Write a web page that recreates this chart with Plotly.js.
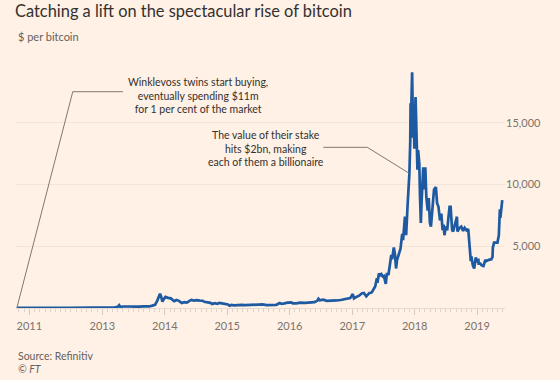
<!DOCTYPE html>
<html>
<head>
<meta charset="utf-8">
<script src="https://cdn.plot.ly/plotly-3.0.1.min.js"></script>
<style>
  html, body { margin: 0; padding: 0; background: #fff1e5; }
  #chart { width: 560px; height: 380px; }
</style>
</head>
<body>
<div id="chart"></div>
<script>
// ---- Data ----
const dates = [
  "2011-08-20","2011-09-15","2011-10-15","2011-11-15","2011-12-15",
  "2012-01-15","2012-02-15","2012-03-15","2012-04-15","2012-05-15","2012-06-15","2012-07-15","2012-08-15","2012-09-15","2012-10-15","2012-11-15","2012-12-15",
  "2013-01-15","2013-02-15","2013-03-15","2013-04-01","2013-04-09","2013-04-16","2013-05-01","2013-06-01","2013-07-01","2013-08-01","2013-09-01","2013-10-01","2013-10-20","2013-11-05","2013-11-18","2013-11-30","2013-12-04","2013-12-10","2013-12-18","2013-12-25",
  "2014-01-05","2014-01-20","2014-02-05","2014-02-25","2014-03-10","2014-03-25","2014-04-10","2014-04-25","2014-05-10","2014-05-25","2014-06-05","2014-06-20","2014-07-05","2014-07-25","2014-08-10","2014-08-20","2014-09-10","2014-09-25","2014-10-05","2014-10-20","2014-11-05","2014-11-15","2014-12-01","2014-12-20",
  "2015-01-05","2015-01-14","2015-01-25","2015-02-10","2015-02-25","2015-03-10","2015-03-25","2015-04-15","2015-05-15","2015-06-15","2015-07-10","2015-07-25","2015-08-20","2015-09-15","2015-10-15","2015-11-04","2015-11-15","2015-12-01","2015-12-20",
  "2016-01-10","2016-01-20","2016-02-10","2016-03-01","2016-04-01","2016-05-01","2016-05-25","2016-06-10","2016-06-17","2016-06-25","2016-07-15","2016-08-05","2016-09-01","2016-10-01","2016-10-25","2016-11-15","2016-12-01","2016-12-20",
  "2017-01-04","2017-01-11","2017-01-25","2017-02-10","2017-02-25","2017-03-10","2017-03-24","2017-04-10","2017-04-25","2017-05-05","2017-05-15","2017-05-25","2017-05-28","2017-06-06","2017-06-12","2017-06-20","2017-06-28","2017-07-05","2017-07-16","2017-07-22","2017-08-01","2017-08-08","2017-08-17","2017-08-22","2017-09-01","2017-09-08","2017-09-14","2017-09-20","2017-09-30","2017-10-10","2017-10-20","2017-10-25","2017-11-05","2017-11-12","2017-11-20","2017-11-28","2017-12-01","2017-12-06","2017-12-08","2017-12-10","2017-12-13","2017-12-17","2017-12-20","2017-12-22","2017-12-26","2017-12-30",
  "2018-01-06","2018-01-10","2018-01-14","2018-01-17","2018-01-21","2018-01-28","2018-02-01","2018-02-06","2018-02-10","2018-02-15","2018-02-20","2018-02-25","2018-03-04","2018-03-10","2018-03-18","2018-03-24","2018-03-31","2018-04-06","2018-04-14","2018-04-24","2018-05-05","2018-05-12","2018-05-20","2018-05-29","2018-06-06","2018-06-13","2018-06-19","2018-06-24","2018-07-02","2018-07-10","2018-07-17","2018-07-24","2018-07-30","2018-08-08","2018-08-14","2018-08-20","2018-08-30","2018-09-05","2018-09-08","2018-09-20","2018-09-30","2018-10-11","2018-10-20","2018-10-31","2018-11-10","2018-11-14","2018-11-20","2018-11-25","2018-11-28","2018-12-07","2018-12-15","2018-12-20","2018-12-24","2018-12-31",
  "2019-01-08","2019-01-10","2019-01-20","2019-01-28","2019-02-07","2019-02-18","2019-02-24","2019-03-10","2019-03-25","2019-04-01","2019-04-03","2019-04-10","2019-04-20","2019-04-30","2019-05-08","2019-05-11","2019-05-14","2019-05-17","2019-05-22","2019-05-26","2019-05-28"
];
const prices = [
  11,5,4,2.5,3.5,
  6.5,4.8,5,5,5,6.5,8.5,12,11,12,11,13.5,
  14.5,27,47,100,230,80,120,120,90,105,130,125,190,250,600,1120,1150,950,520,700,
  900,820,780,550,650,580,400,470,440,580,650,600,630,600,590,500,480,420,330,390,340,420,380,320,
  280,180,250,220,240,290,250,225,240,235,290,290,230,230,260,400,330,370,440,
  450,380,380,430,420,450,470,580,750,630,670,580,570,610,650,710,750,800,
  1130,780,900,1000,1180,1220,940,1200,1260,1550,1750,2400,2050,2800,2650,2750,2550,2600,1950,2750,2750,3400,4300,3950,4900,4300,3200,3900,4350,4800,6000,5500,7400,5900,8200,9800,10900,13500,16600,15000,16800,19100,16500,13800,16000,12900,
  17100,14400,14000,11200,12800,11700,9100,6900,8500,10100,11400,9600,11400,9000,7900,8900,6900,6600,8000,9600,9800,8500,8200,7100,7650,6300,6750,5900,6600,6300,7300,8200,8200,6300,6200,6500,7000,7400,6200,6500,6600,6250,6500,6300,6400,5600,4500,3800,4200,3450,3200,4000,4100,3700,
  4000,3600,3600,3450,3400,3900,3800,3900,3950,4150,4900,5300,5300,5300,5900,6600,8000,7300,7900,8700,8750
];
const xTickVals = ["2011-11-01","2013-01-01","2014-01-01","2015-01-01","2016-01-01","2017-01-01","2018-01-01","2019-01-01"];
const xTickText = ["2011","2013","2014","2015","2016","2017","2018","2019"];
const yTickVals = [5000, 10000, 15000];
const yTickText = ["\u20075,000", "10,000", "15,000"];

const titleText = "Catching a lift on the spectacular rise of bitcoin";
const subtitleText = "$ per bitcoin";
const note1 = "Winklevoss twins start buying,<br>eventually spending $11m<br>for 1 per cent of the market";
const note2 = "The value of their stake<br>hits $2bn, making<br>each of them a billionaire";

// ---- Layout ----
const FONT = "Lato, 'Open Sans', sans-serif";
const dark = "#33302e";
const grey = "#66605c";
const leader = "#7f7873";

const trace = {
  x: dates, y: prices, type: "scatter", mode: "lines",
  line: { color: "#1d5aa1", width: 2.7 },
  hoverinfo: "skip"
};

const layout = {
  width: 560, height: 380,
  paper_bgcolor: "#fff1e5", plot_bgcolor: "#fff1e5",
  margin: { l: 16, r: 55, t: 60, b: 72 },
  showlegend: false,
  font: { family: FONT, color: grey },
  title: {
    text: titleText, xref: "container", yref: "container",
    x: 15/560, xanchor: "left", y: 1 - 11/380, yanchor: "middle",
    pad: { t: 0, b: 0, l: 0, r: 0 },
    font: { size: 16.4, color: dark, family: FONT }
  },
  xaxis: {
    type: "date",
    range: ["2011-08-15", "2019-06-13"],
    tickvals: xTickVals, ticktext: xTickText,
    ticks: "outside", ticklen: 6, tickcolor: "#d3c8bf", tickwidth: 1,
    ticklabelstandoff: 2,
    showgrid: false, zeroline: false,
    showline: true, linecolor: "#e6dad0", linewidth: 1,
    tickfont: { size: 11, color: "#7a736e", family: FONT },
    minor: { dtick: "M1", tick0: "2011-01-01", ticks: "outside", ticklen: 3, tickcolor: "#ddd2c9", showgrid: false },
    fixedrange: true
  },
  yaxis: {
    side: "right",
    range: [0, 20100],
    tickvals: yTickVals, ticktext: yTickText,
    ticks: "", showline: false, zeroline: false,
    showgrid: true, gridcolor: "#f1e4d9", gridwidth: 1,
    tickfont: { size: 11, color: "#7a736e", family: FONT },
    fixedrange: true
  },
  annotations: [
    { xref: "paper", yref: "paper", x: 0, y: 1 + (60-37)/248, xanchor: "left", yanchor: "middle",
      text: subtitleText, showarrow: false, font: { size: 11, color: grey, family: FONT } },
    { xref: "paper", yref: "paper", x: 0, y: -(356-308)/248, xanchor: "left", yanchor: "middle",
      text: "Source: Refinitiv", showarrow: false, font: { size: 10.5, color: grey, family: FONT } },
    { xref: "paper", yref: "paper", x: 0, y: -(369-308)/248, xanchor: "left", yanchor: "middle",
      text: "<i>© FT</i>", showarrow: false, font: { size: 10.5, color: grey, family: FONT } },
    { xref: "x", yref: "y", x: "2014-07-13", y: 17260, xanchor: "center", yanchor: "middle", align: "center",
      text: note1, showarrow: false, font: { size: 10.5, color: dark, family: FONT } },
    { xref: "x", yref: "y", x: "2015-08-15", y: 12926, xanchor: "center", yanchor: "middle", align: "center",
      text: note2, showarrow: false, font: { size: 10.5, color: dark, family: FONT } }
  ],
  shapes: [
    { type: "path", xref: "x", yref: "y",
      path: "M 2013-05-01,17530 L 2012-07-12,17530 L " + dates[0] + "," + prices[0],
      line: { color: leader, width: 1 } },
    { type: "path", xref: "x", yref: "y",
      path: "M 2016-07-16,13023 L 2017-03-30,13023 L 2017-11-30,10916",
      line: { color: leader, width: 1 } }
  ]
};

Plotly.newPlot("chart", [trace], layout, { displayModeBar: false, staticPlot: true });
</script>
</body>
</html>
